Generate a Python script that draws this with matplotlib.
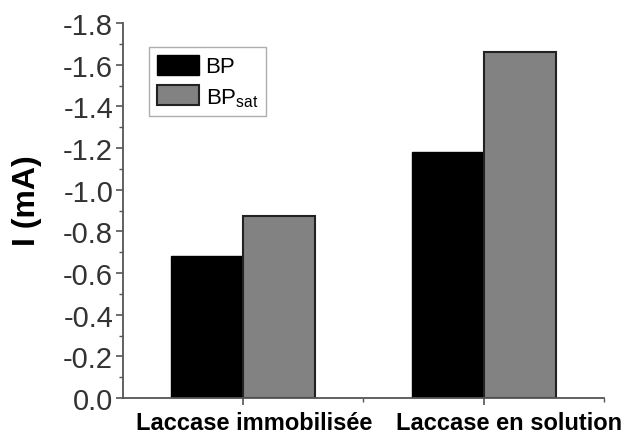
import matplotlib.pyplot as plt
import numpy as np

plt.rcParams['font.family'] = ['Liberation Sans', 'DejaVu Sans']
plt.rcParams['mathtext.fontset'] = 'custom'
plt.rcParams['mathtext.rm'] = 'Liberation Sans'

categories = ['Laccase immobilisée', 'Laccase en solution']
bp = [-0.68, -1.18]
bp_sat = [-0.875, -1.66]
yticks = [0.0, -0.2, -0.4, -0.6, -0.8, -1.0, -1.2, -1.4, -1.6, -1.8]

fig = plt.figure(figsize=(6.24, 4.39), dpi=100)
ax = fig.add_axes([0.197, 0.091, 0.771, 0.854])

x = np.arange(1, len(categories) + 1)
w = 0.3
ax.bar(x - w/2, bp, w, color='black', edgecolor='black', linewidth=1.0, label='BP')
ax.bar(x + w/2, bp_sat, w, color='#828282', edgecolor='#222222', linewidth=1.5,
       label='BP$_{\\mathregular{sat}}$')

ax.set_xlim(0.5, 2.5)
ax.set_ylim(0, -1.8)
ax.set_yticks(yticks)
ax.set_yticklabels(['%.1f' % v for v in yticks])
ax.set_yticks(np.arange(0, -1.85, -0.1), minor=True)
ax.set_xticks(x)
ax.set_xticklabels([])
ax.set_xticks([1.5, 2.5], minor=True)

# category names, sitting a little right of their ticks as in the original
for xi, name, dx in zip(x, categories, [8, 18]):
    ax.annotate(name, xy=(xi, 0), xycoords=('data', 'axes fraction'),
                xytext=(dx, -9.5), textcoords='offset points',
                ha='center', va='top', fontsize=17, fontweight='bold',
                annotation_clip=False)

for s in ['top', 'right']:
    ax.spines[s].set_visible(False)
for s in ['left', 'bottom']:
    ax.spines[s].set_color('#555555')
    ax.spines[s].set_linewidth(1.3)

ax.tick_params(axis='y', which='major', direction='out', length=5, width=1.2,
               color='#555555', labelsize=21, labelcolor='#333333', pad=2)
ax.tick_params(axis='y', which='minor', direction='out', length=3, width=1.0, color='#555555')
ax.tick_params(axis='x', which='major', direction='out', length=5, width=1.2,
               color='#555555')
ax.tick_params(axis='x', which='minor', direction='out', length=3, width=1.0, color='#555555')

ax.set_ylabel('I (mA)', fontsize=23, fontweight='bold')
ax.yaxis.set_label_coords(-0.168, 0.53)

leg = ax.legend(loc='upper left', bbox_to_anchor=(0.054, 0.936), fontsize=16,
                frameon=True, fancybox=False, handlelength=1.9, handleheight=1.0,
                borderpad=0.35, labelspacing=0.36, handletextpad=0.3,
                borderaxespad=0.0)
leg.get_frame().set_edgecolor('#999999')
leg.get_frame().set_linewidth(1.0)

fig.savefig('out.png', dpi=100)
